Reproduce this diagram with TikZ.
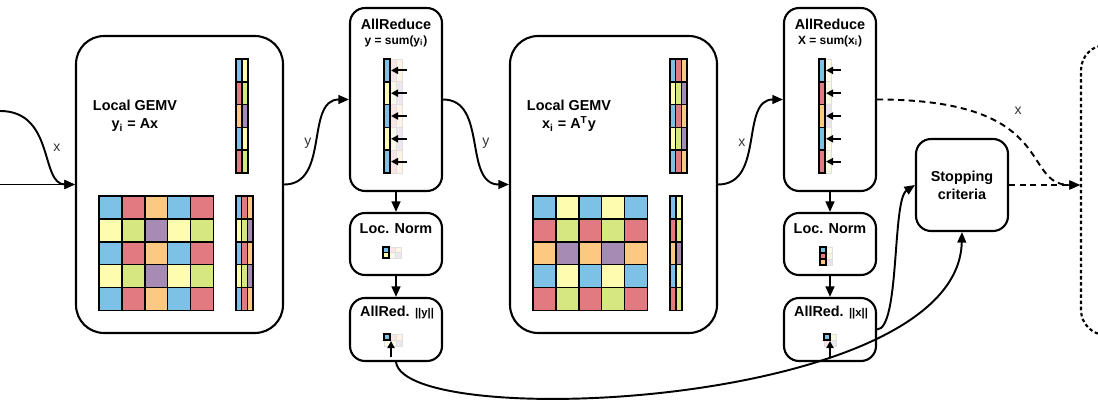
\documentclass[tikz,border=0pt]{standalone}
\usepackage{fontspec}
\setmainfont{Liberation Sans}
\usetikzlibrary{arrows.meta}
\definecolor{cb}{RGB}{125,193,230}
\definecolor{cr}{RGB}{226,123,129}
\definecolor{co}{RGB}{253,201,130}
\definecolor{cy}{RGB}{253,252,175}
\definecolor{cg}{RGB}{214,230,128}
\definecolor{cp}{RGB}{166,139,181}
% grid of coloured cells: [style]{x0}{y0}{cell w}{cell h}{rows}
\newcommand{\cellgrid}[6][cell]{%
  \foreach \cl [count=\rr from 0] in {#6}
    \foreach \c [count=\kk from 0] in \cl
      \draw[#1, fill=\c] ({#2+#4*\kk},{#3+#5*\rr}) rectangle ++(#4,#5);
}
\begin{document}
\begin{tikzpicture}[x=0.02cm, y=-0.02cm,
  bigbox/.style={draw, line width=1.2pt, rounded corners=0.56cm, minimum width=4.14cm, minimum height=5.94cm, inner sep=0pt},
  opbox/.style={draw, line width=1.2pt, rounded corners=0.3cm, minimum width=1.84cm, inner sep=0pt},
  farbox/.style={draw, line width=1.2pt, dash pattern=on 2pt off 1.5pt, rounded corners=0.5cm, minimum width=2cm, minimum height=5.8cm, inner sep=0pt},
  conn/.style={line width=1.1pt, -{Triangle[length=6pt,width=5pt]}},
  dashline/.style={dash pattern=on 3.5pt off 2.5pt},
  pusharrow/.style={line width=1.1pt, -{Triangle[length=4pt,width=4pt]}},
  cell/.style={draw=black, line width=0.8pt},
  ghost/.style={draw=black!12, line width=0.4pt},
  headtext/.style={font=\fontsize{8.2}{10.2}\selectfont\bfseries, align=center, inner sep=0pt},
  subtext/.style={font=\fontsize{6.8}{8}\selectfont\bfseries, inner sep=0pt},
  lbl/.style={font=\fontsize{8}{9}\selectfont, text=black!80, inner sep=0pt}]
\useasboundingbox (0,0) rectangle (1098,405);
\clip (0,0) rectangle (1098,405);

% boxes
\node[bigbox] (gemvA) at (179.5,184.5) {};
\node[opbox, minimum height=3.66cm] (redY) at (396,99.5) {};
\node[opbox, minimum height=1.24cm] (normY) at (396,244) {};
\node[opbox, minimum height=1.26cm] (redNY) at (396,329.5) {};
\node[bigbox] (gemvB) at (613.5,184.5) {};
\node[opbox, minimum height=3.66cm] (redX) at (830,99.5) {};
\node[opbox, minimum height=1.24cm] (normX) at (830,244) {};
\node[opbox, minimum height=1.26cm] (redNX) at (830,329.5) {};
\node[opbox, minimum height=1.84cm, headtext] (stop) at (962,185) {Stopping\\criteria};
\node[farbox] (next) at (1131,190) {};

% texts
\node[headtext] (gemvAtxt) at (135,116) {Local GEMV\\y\textsubscript{i} = Ax};
\node[headtext] (gemvBtxt) at (569,116) {Local GEMV\\x\textsubscript{i} = A\textsuperscript{T}y};
\node[headtext] (redYtxt) at (396,24) {AllReduce};
\node[subtext] (redYsum) at (396,41) {y = sum(y\textsubscript{i})};
\node[headtext] (redXtxt) at (830,24) {AllReduce};
\node[subtext] (redXsum) at (830,41) {X = sum(x\textsubscript{i})};
\node[headtext] (normYtxt) at (396,229) {Loc. Norm};
\node[headtext] (normXtxt) at (830,229) {Loc. Norm};
\node[headtext] (redNYtxt) at (397,313) {AllRed. {\fontsize{6.4}{8}\selectfont ||y||}};
\node[headtext] (redNXtxt) at (831,313) {AllRed. {\fontsize{6.4}{8}\selectfont ||x||}};

% local GEMV A
\cellgrid{236}{59}{6}{22.8}{{cb,cy},{cr,cg},{co,cp},{cb,cy},{cr,cg}}
\cellgrid{99}{196}{22.9}{22.9}{{cb,cr,co,cb,cr},{cy,cg,cp,cy,cg},{cb,cr,co,cb,cr},{cy,cg,cp,cy,cg},{cb,cr,co,cb,cr}}
\cellgrid{236}{196}{5.7}{22.9}{{cb,cr,co},{cy,cg,cp},{cb,cr,co},{cy,cg,cp},{cb,cr,co}}
% local GEMV A^T
\cellgrid{670}{59}{5.7}{22.8}{{cb,cr,co},{cy,cg,cp},{cb,cr,co},{cy,cg,cp},{cb,cr,co}}
\cellgrid{533}{196}{22.9}{22.9}{{cb,cy,cb,cy,cb},{cr,cg,cr,cg,cr},{co,cp,co,cp,co},{cb,cy,cb,cy,cb},{cr,cg,cr,cg,cr}}
\cellgrid{670}{196}{6}{22.9}{{cb,cy},{cr,cg},{co,cp},{cb,cy},{cr,cg}}

% allreduce y
\cellgrid[ghost]{390}{59}{6}{22.8}{{cr!20,co!20},{cg!20,cp!20},{cr!20,co!20},{cg!20,cp!20},{cr!20,co!20}}
\cellgrid{384}{59}{6}{22.8}{{cb},{cy},{cb},{cy},{cb}}
\foreach \k in {0,...,4}
  \draw[pusharrow] (407,{70.4+22.8*\k}) -- (391,{70.4+22.8*\k});
% allreduce x
\cellgrid[ghost]{825}{59}{6}{22.8}{{cy!25},{cg!25},{cp!25},{cy!25},{cg!25}}
\cellgrid{819}{59}{6}{22.8}{{cb},{cr},{co},{cb},{cr}}
\foreach \k in {0,...,4}
  \draw[pusharrow] (841,{70.4+22.8*\k}) -- (826,{70.4+22.8*\k});

% norms
\cellgrid[ghost]{389}{247}{6}{5.5}{{cr!20,co!20},{cg!20,cp!20}}
\cellgrid[cell, line width=0.6pt]{383}{247}{6}{5.5}{{cb},{cy}}
\cellgrid[ghost]{826}{247}{6}{6}{{cy!25},{cg!25},{cp!25}}
\cellgrid[cell, line width=0.6pt]{820}{247}{6}{6}{{cb},{cr},{co}}
\cellgrid[ghost]{384}{334}{6}{6}{{white,cr!20,co!20},{cy!20,cg!20,cp!20}}
\cellgrid[cell, line width=0.6pt]{384}{334}{6}{6}{{cb}}
\draw[pusharrow] (391,357) -- (391,341);
\cellgrid[ghost]{824}{334}{6}{6}{{white,cg!25},{cr!20,cp!20}}
\cellgrid[cell, line width=0.6pt]{824}{334}{6}{6}{{cb}}
\draw[pusharrow] (830,357) -- (830,341);

% connectors
\coordinate (xin) at (0,184.5);
\coordinate (xin2) at (0,111);
\draw[conn] (xin) -- (gemvA.west);
\draw[conn] (xin2) .. controls (55,111) and (40,184.5) .. (gemvA.west);
\node[lbl] (xlblA) at (57,148) {x};
\draw[conn] (gemvA.east) .. controls (330,184.5) and (305,99.5) .. (redY.west);
\node[lbl] (ylblA) at (308,143) {y};
\draw[conn] (redY.east) .. controls (488,99.5) and (463,184.5) .. (gemvB.west);
\node[lbl] (ylblB) at (486,143) {y};
\draw[conn] (gemvB.east) .. controls (765,184.5) and (740,99.5) .. (redX.west);
\node[lbl] (xlblB) at (742,143) {x};
\draw[conn] (redY.south) -- (normY.north);
\draw[conn] (normY.south) -- (redNY.north);
\draw[conn] (redX.south) -- (normX.north);
\draw[conn] (normX.south) -- (redNX.north);
\draw[conn] (redNX.east) .. controls (900,329) and (892,200) .. (stop.west);
\draw[conn] (redNY.south) .. controls (405,432) and (958,408) .. (stop.south);
\coordinate (nextin) at (stop.east -| next.west);
\draw[conn, dashline] (redX.east) .. controls (1060,99.5) and (1020,185) .. (nextin);
\node[lbl] (xlblC) at (1018,111) {x};
\draw[conn, dashline] (stop.east) -- (nextin);
\end{tikzpicture}
\end{document}
